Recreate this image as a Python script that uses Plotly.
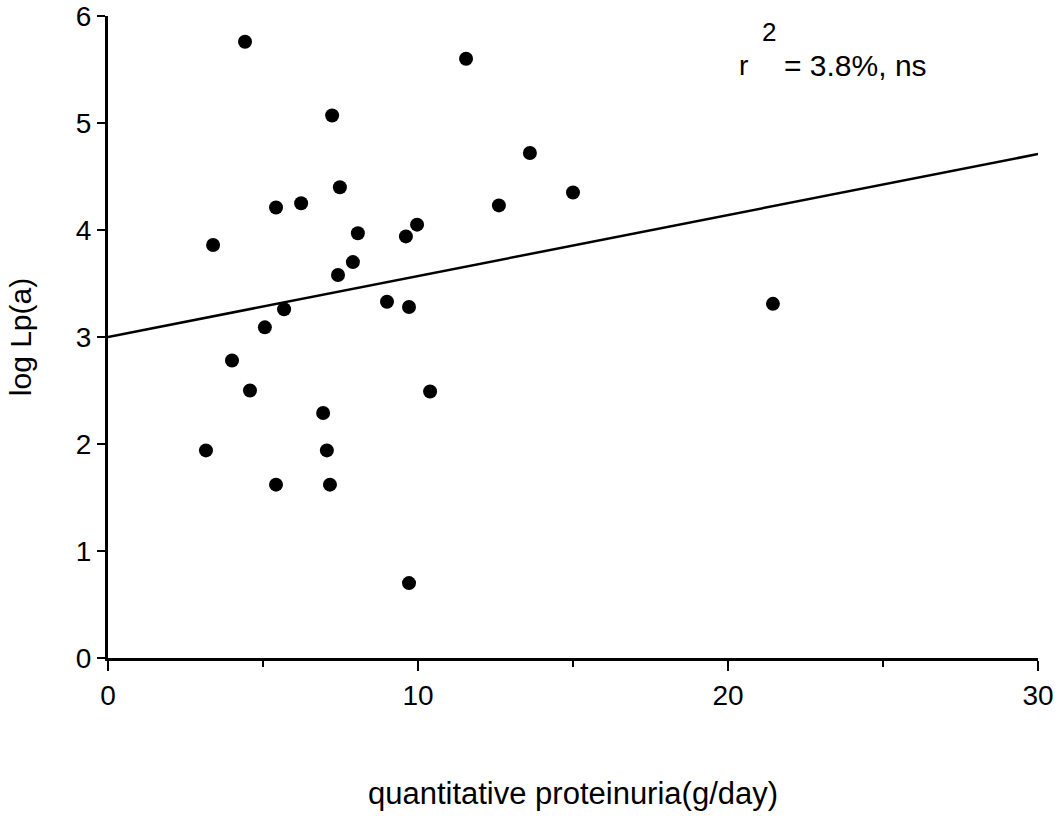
import plotly.graph_objects as go

proteinuria = [4.42, 11.55, 7.23, 13.61, 7.48, 15.0, 5.42, 6.23, 12.61, 9.97,
               9.61, 8.06, 3.39, 7.90, 7.42, 9.0, 9.71, 21.45, 5.68, 5.06,
               4.0, 4.58, 10.39, 6.94, 3.16, 7.06, 5.42, 7.16, 9.71]
log_lpa = [5.76, 5.60, 5.07, 4.72, 4.40, 4.35, 4.21, 4.25, 4.23, 4.05,
           3.94, 3.97, 3.86, 3.70, 3.58, 3.33, 3.28, 3.31, 3.26, 3.09,
           2.78, 2.50, 2.49, 2.29, 1.94, 1.94, 1.62, 1.62, 0.70]
fit_x = [0, 30]
fit_y = [3.0, 4.71]
x_ticks = [0, 10, 20, 30]
x_minor = [5, 15, 25]
y_ticks = [0, 1, 2, 3, 4, 5, 6]

FONT = "Liberation Sans, Arial, Helvetica, sans-serif"

fig = go.Figure()
fig.add_trace(go.Scatter(x=fit_x, y=fit_y, mode="lines",
                         line=dict(color="black", width=2.5), showlegend=False))
fig.add_trace(go.Scatter(x=proteinuria, y=log_lpa, mode="markers",
                         marker=dict(color="black", size=14), showlegend=False))

fig.add_annotation(x=20.5, y=5.54, text="r", showarrow=False,
                   font=dict(size=28, color="black", family=FONT))
fig.add_annotation(x=21.32, y=5.85, text="2", showarrow=False,
                   font=dict(size=26, color="black", family=FONT))
fig.add_annotation(x=21.75, y=5.54, text="= 3.8%, ns", showarrow=False, xanchor="left",
                   font=dict(size=30, color="black", family=FONT))

fig.update_layout(
    width=1062, height=830,
    margin=dict(l=108, r=24, t=16, b=172),
    paper_bgcolor="white", plot_bgcolor="white",
    font=dict(family=FONT, size=28, color="black"),
    xaxis=dict(range=[0, 30], tickvals=x_ticks, ticks="outside", ticklen=10,
               tickwidth=2, tickcolor="black", showline=True, linecolor="black",
               linewidth=3, showgrid=False, zeroline=False, automargin=False,
               ticklabeloverflow="allow",
               minor=dict(tickvals=x_minor, ticks="outside", ticklen=6,
                          tickwidth=2, tickcolor="black"),
               tickfont=dict(size=28),
               title=dict(text="quantitative proteinuria(g/day)", standoff=73,
                          font=dict(size=31))),
    yaxis=dict(range=[0, 6], tickvals=y_ticks, ticks="outside", ticklen=8,
               tickwidth=2, tickcolor="black", showline=True, linecolor="black",
               linewidth=3, showgrid=False, zeroline=False, automargin=False,
               ticklabeloverflow="allow",
               tickfont=dict(size=28),
               title=dict(text="log Lp(a)", standoff=36, font=dict(size=30))),
)

fig.write_html("out.html", config={"displayModeBar": False},
               post_script="document.body.style.margin='0';document.body.style.overflow='hidden';")
